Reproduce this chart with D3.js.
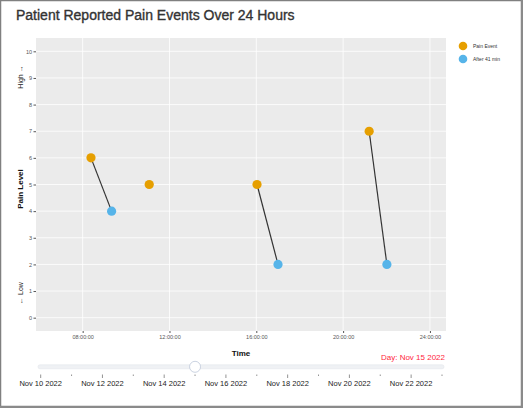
<!DOCTYPE html>
<html>
<head>
<meta charset="utf-8">
<script src="https://cdn.jsdelivr.net/npm/d3@7"></script>
<style>
  html, body { margin: 0; padding: 0; background: #fff; }
  svg { display: block; font-family: "Liberation Sans", Arial, sans-serif; }
</style>
</head>
<body>
<svg id="chart" width="523" height="408"></svg>
<script>
// pain events
const eventTimes = ["08:23", "11:04", "16:02", "21:12"];
const eventLevels = [6, 5, 5, 7];
const afterTimes = ["09:20", null, "17:00", "22:01"];
const afterLevels = [4, null, 2, 2];

const xTickHours = [8, 12, 16, 20, 24];
const yTicks = [0, 1, 2, 3, 4, 5, 6, 7, 8, 9, 10];
const legendLabels = ["Pain Event", "After 41 min"];
const sliderDays = ["2022-11-10", "2022-11-11", "2022-11-12", "2022-11-13", "2022-11-14",
    "2022-11-15", "2022-11-16", "2022-11-17", "2022-11-18", "2022-11-19",
    "2022-11-20", "2022-11-21", "2022-11-22", "2022-11-23"];
const currentDay = "2022-11-15";

const orange = "#E69F00";
const blue = "#56B4E9";

function toHours(s) {
    const p = s.split(":");
    return +p[0] + (+p[1]) / 60;
}

const svg = d3.select("#chart");

// outer frame
svg.append("rect").attr("x", 0.5).attr("y", 0.5).attr("width", 521).attr("height", 406)
    .attr("fill", "#fff").attr("stroke", "#808080").attr("stroke-width", 1.5);
svg.append("line").attr("x1", 522).attr("x2", 522).attr("y1", 0).attr("y2", 408)
    .attr("stroke", "#8a8a8a").attr("stroke-width", 2);
svg.append("line").attr("x1", 0).attr("x2", 523).attr("y1", 407).attr("y2", 407)
    .attr("stroke", "#8a8a8a").attr("stroke-width", 2);

svg.append("text").attr("x", 16).attr("y", 20)
    .attr("font-size", 14).attr("fill", "#333")
    .attr("stroke", "#333").attr("stroke-width", 0.35)
    .text("Patient Reported Pain Events Over 24 Hours");

const x = d3.scaleLinear().domain([5.85, 24.74]).range([36, 446]);
const y = d3.scaleLinear().domain([-0.5, 10.5]).range([331, 38]);

// panel
svg.append("rect").attr("x", 36).attr("y", 38).attr("width", 410).attr("height", 293)
    .attr("fill", "#ebebeb");

const g = svg.append("g");

g.selectAll(".hgrid").data(yTicks).enter().append("line")
    .attr("x1", 36).attr("x2", 446)
    .attr("y1", d => y(d)).attr("y2", d => y(d))
    .attr("stroke", "#fff").attr("stroke-width", 0.8);
g.selectAll(".vgrid").data(xTickHours).enter().append("line")
    .attr("y1", 38).attr("y2", 331)
    .attr("x1", d => x(d)).attr("x2", d => x(d))
    .attr("stroke", "#fff").attr("stroke-width", 0.8);

// axes
const yAxis = d3.axisLeft(y).tickValues(yTicks).tickSize(2.5).tickPadding(1.5);
const yg = svg.append("g").attr("transform", "translate(36,0)").call(yAxis);
yg.select(".domain").remove();
yg.selectAll("line").attr("stroke", "#555");
yg.selectAll("text").attr("font-size", 5.5).attr("fill", "#555").attr("font-family", "inherit");

const xAxis = d3.axisBottom(x).tickValues(xTickHours).tickSize(2).tickPadding(2)
    .tickFormat(h => d3.format("02d")(h) + ":00:00");
const xg = svg.append("g").attr("transform", "translate(0,331)").call(xAxis);
xg.select(".domain").remove();
xg.selectAll("line").attr("stroke", "#555");
xg.selectAll("text").attr("font-size", 5.5).attr("fill", "#555").attr("font-family", "inherit");

// axis titles
svg.append("text").attr("x", 241).attr("y", 356).attr("text-anchor", "middle")
    .attr("font-size", 8).attr("font-weight", "bold").attr("fill", "#111").text("Time");
svg.append("text").attr("transform", "translate(23,189) rotate(-90)").attr("text-anchor", "middle")
    .attr("font-size", 8).attr("font-weight", "bold").attr("fill", "#111").text("Pain Level");
svg.append("text").attr("transform", "translate(23,77) rotate(-90)").attr("text-anchor", "middle")
    .attr("font-size", 7).attr("fill", "#222").text("High \u2192");
svg.append("text").attr("transform", "translate(23,293) rotate(-90)").attr("text-anchor", "middle")
    .attr("font-size", 7).attr("fill", "#222").text("\u2190 Low");

// connector lines
const pairs = eventTimes.map((t, i) => ({ t0: t, v0: eventLevels[i], t1: afterTimes[i], v1: afterLevels[i] }))
    .filter(d => d.t1 !== null);
g.selectAll(".conn").data(pairs).enter().append("line")
    .attr("x1", d => x(toHours(d.t0))).attr("y1", d => y(d.v0))
    .attr("x2", d => x(toHours(d.t1))).attr("y2", d => y(d.v1))
    .attr("stroke", "#333").attr("stroke-width", 1.2);

// points
g.selectAll(".ev").data(eventTimes).enter().append("circle")
    .attr("cx", d => x(toHours(d))).attr("cy", (d, i) => y(eventLevels[i]))
    .attr("r", 4.6).attr("fill", orange);
g.selectAll(".af").data(afterTimes.map((t, i) => ({ t: t, v: afterLevels[i] })).filter(d => d.t !== null))
    .enter().append("circle")
    .attr("cx", d => x(toHours(d.t))).attr("cy", d => y(d.v))
    .attr("r", 4.6).attr("fill", blue);

// legend
const legend = svg.append("g").attr("transform", "translate(463,46)");
legendLabels.forEach((lab, i) => {
    legend.append("circle").attr("cx", 0).attr("cy", i * 13).attr("r", 4.3)
        .attr("fill", i === 0 ? orange : blue);
    legend.append("text").attr("x", 10).attr("y", i * 13 + 2)
        .attr("font-size", 5).attr("fill", "#333").text(lab);
});

// day slider
const parseDay = d3.timeParse("%Y-%m-%d");
const days = sliderDays.map(parseDay);
const sx = d3.scaleTime().domain(d3.extent(days)).range([40.7, 442]);

svg.append("rect").attr("x", 38).attr("y", 364.8).attr("width", 406).attr("height", 4).attr("rx", 2)
    .attr("fill", "#eff1f4").attr("stroke", "#e2e5eb").attr("stroke-width", 0.6);

svg.selectAll(".stick").data(days).enter().append("line")
    .attr("x1", d => sx(d)).attr("x2", d => sx(d))
    .attr("y1", 374.5).attr("y2", (d, i) => i % 2 === 0 ? 378 : 376)
    .attr("stroke", "#777").attr("stroke-width", 0.8);

svg.selectAll(".slab").data(days.filter((d, i) => i % 2 === 0)).enter().append("text")
    .attr("x", d => sx(d)).attr("y", 386).attr("text-anchor", "middle")
    .attr("font-size", 7.5).attr("fill", "#222")
    .text(d3.timeFormat("%b %d %Y"));

svg.append("circle").attr("cx", sx(parseDay(currentDay))).attr("cy", 366.8).attr("r", 5.5)
    .attr("fill", "#fff").attr("stroke", "#bec8d9").attr("stroke-width", 0.8);

svg.append("text").attr("x", 445).attr("y", 359.5).attr("text-anchor", "end")
    .attr("font-size", 8).attr("fill", "#ff1f3d")
    .text("Day: " + d3.timeFormat("%b %d %Y")(parseDay(currentDay)));
</script>
</body>
</html>
